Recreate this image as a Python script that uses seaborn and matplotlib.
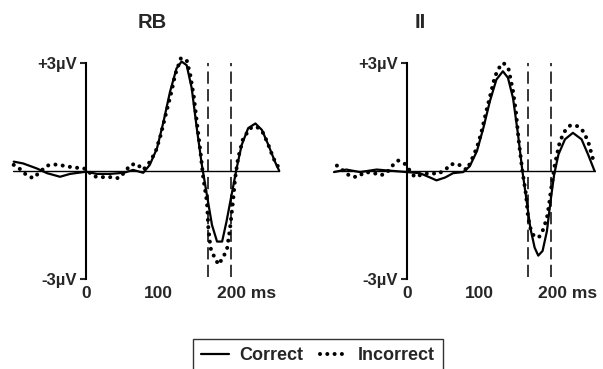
import matplotlib
matplotlib.use("Agg")
import matplotlib.pyplot as plt
import matplotlib.transforms as mtransforms
from matplotlib.lines import Line2D
import seaborn as sns

sns.set_style("white")
plt.rcParams['font.family'] = ['Liberation Sans', 'DejaVu Sans']
plt.rcParams['font.weight'] = 'bold'

# ERP waveforms (time in ms, amplitude in µV)
rb_correct_t = [-100, -87, -68, -54, -36, -22, 0, 15, 33, 52, 65, 79, 88, 98, 107, 116, 125, 132, 139,
                146, 153, 160, 167, 174, 181, 188, 194, 201, 208, 215, 224, 234, 243, 252, 261, 267]
rb_correct_v = [0.26, 0.21, 0.07, -0.06, -0.16, -0.08, -0.02, -0.08, -0.08, -0.05, 0.03, -0.05, 0.17,
                0.63, 1.37, 2.2, 2.85, 3.04, 2.94, 2.3, 1.19, 0.17, -0.67, -1.5, -1.96, -1.96, -1.41,
                -0.67, 0.07, 0.72, 1.19, 1.32, 1.14, 0.72, 0.26, 0.0]

rb_incorrect_t = [-100, -91, -82, -73, -64, -54, -43, -32, -21, 0, 10, 22, 33, 45, 54, 61, 70, 79, 88,
                  96, 103, 111, 118, 123, 131, 139, 144, 149, 153, 158, 162, 167, 169, 172, 177, 183,
                  190, 195, 199, 203, 206, 210, 217, 227, 236, 245, 252, 259, 266]
rb_incorrect_v = [0.17, 0.05, -0.12, -0.2, -0.03, 0.15, 0.18, 0.15, 0.11, 0.06, -0.15, -0.17, -0.17,
                  -0.2, -0.02, 0.17, 0.2, 0.03, 0.25, 0.53, 0.99, 1.64, 2.2, 2.67, 3.13, 3.08, 2.67,
                  2.05, 1.37, 0.54, -0.2, -0.85, -1.58, -2.14, -2.38, -2.6, -2.38, -2.14, -1.58, -0.85,
                  -0.2, 0.35, 0.9, 1.19, 1.23, 1.05, 0.72, 0.35, 0.1]

ii_correct_t = [-101, -84, -65, -42, -24, 0, 18, 32, 41, 53, 64, 78, 87, 97, 106, 115, 124, 133, 140,
                147, 154, 160, 166, 171, 177, 182, 188, 194, 199, 204, 210, 219, 230, 242, 251, 260]
ii_correct_v = [-0.03, 0.04, -0.03, 0.04, 0.01, -0.03, -0.06, -0.18, -0.26, -0.18, -0.06, -0.03, 0.13,
                0.55, 1.2, 1.94, 2.54, 2.77, 2.59, 2.03, 1.01, 0.0, -0.84, -1.58, -2.13, -2.35, -2.22,
                -1.67, -0.84, -0.1, 0.46, 0.88, 1.06, 0.88, 0.46, 0.0]

ii_incorrect_t = [-97, -79, -69, -58, -47, -36, -28, -20, -12, -3, 11, 23, 33, 43, 53, 61, 71, 83, 89,
                  97, 103, 110, 117, 122, 129, 134, 141, 147, 151, 155, 160, 165, 168, 171, 176, 183,
                  189, 194, 197, 200, 205, 208, 212, 219, 226, 235, 244, 251, 256, 260]
ii_incorrect_v = [0.15, -0.14, -0.17, -0.03, -0.05, -0.12, -0.05, 0.15, 0.29, 0.2, -0.17, -0.08, -0.06,
                  -0.08, 0.03, 0.19, 0.19, 0.03, 0.28, 0.65, 1.06, 1.66, 2.22, 2.63, 2.91, 3.0, 2.82,
                  2.22, 1.66, 0.83, 0.0, -0.65, -1.3, -1.58, -1.81, -1.84, -1.62, -1.3, -0.93, -0.47,
                  0.18, 0.46, 0.83, 1.11, 1.26, 1.26, 1.11, 0.83, 0.46, 0.18]

panels = ["RB", "II"]
window = [168, 200]   # dashed analysis window (ms)
xlims = [(-101, 268), (-101, 262)]

fig = plt.figure(figsize=(6.03, 3.69), dpi=100)
ax1 = fig.add_axes([13 / 603, 1 - 279 / 369, 267 / 603, 216 / 369])
ax2 = fig.add_axes([334 / 603, 1 - 279 / 369, 262 / 603, 216 / 369])

solid_kw = dict(color="black", linewidth=1.6, solid_joinstyle="round", clip_on=False)
dot_kw = dict(color="black", linewidth=2.9, linestyle=(0, (0.01, 1.8)),
              dash_capstyle="round", clip_on=False)

series = [
    (rb_correct_t, rb_correct_v, rb_incorrect_t, rb_incorrect_v),
    (ii_correct_t, ii_correct_v, ii_incorrect_t, ii_incorrect_v),
]

for ax, (ct, cv, it, iv), xl in zip([ax1, ax2], series, xlims):
    ax.axhline(0, color="black", linewidth=1.0)
    for w in window:
        ax.axvline(w, ymin=0.01, ymax=1.0, color="black", linewidth=1.1,
                   linestyle=(0, (8, 3.5)))
    sns.lineplot(x=ct, y=cv, ax=ax, **solid_kw)
    sns.lineplot(x=it, y=iv, ax=ax, **dot_kw)
    ax.set(xlabel="", ylabel="")
    ax.set_xlim(*xl)
    ax.set_ylim(-3, 3)

    for s in ["top", "right", "bottom"]:
        ax.spines[s].set_visible(False)
    ax.spines["left"].set_position(("data", 0))
    ax.spines["left"].set_linewidth(1.5)
    ax.spines["left"].set_color("black")

    ax.set_yticks([-3, 3])
    ax.set_yticklabels(["-3µV", "+3µV"])
    ax.tick_params(axis="y", direction="out", length=4.5, width=1.5, pad=2,
                   labelsize=12, left=True)
    ax.set_xticks([0, 100, 200])
    ax.set_xticklabels(["0", "100", "200 ms"])
    ax.tick_params(axis="x", length=0, pad=5, labelsize=12.5)
    lab = ax.get_xticklabels()[-1]
    lab.set_transform(lab.get_transform() + mtransforms.ScaledTranslation(16 / 100, 0, fig.dpi_scale_trans))
    for t in ax.get_xticklabels() + ax.get_yticklabels():
        t.set_fontweight("bold")
    ax.patch.set_visible(False)

fig.text(152 / 603, 1 - 22 / 369, panels[0], ha="center", va="center", fontsize=14.5, fontweight="bold")
fig.text(420 / 603, 1 - 22 / 369, panels[1], ha="center", va="center", fontsize=14.5, fontweight="bold")

handles = [Line2D([], [], **{k: v for k, v in solid_kw.items() if k != "clip_on"}),
           Line2D([], [], **{k: v for k, v in dot_kw.items() if k != "clip_on"})]
leg = fig.legend(handles, ["Correct", "Incorrect"], loc="upper center",
                 bbox_to_anchor=(318 / 603, 1 - 339 / 369), ncol=2, frameon=True,
                 fancybox=False, edgecolor="black", prop={"size": 13, "weight": "bold"},
                 handlelength=1.55, handletextpad=0.55, columnspacing=0.9, borderpad=0.45,
                 borderaxespad=0)
leg.get_frame().set_linewidth(1.0)

fig.savefig("out.png", dpi=100)
